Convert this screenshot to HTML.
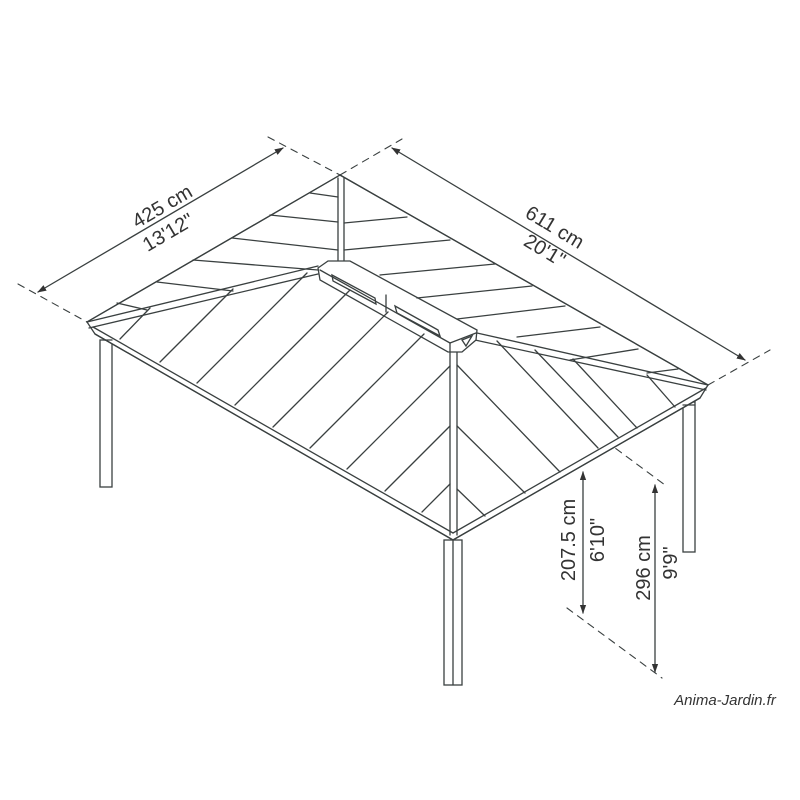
<!DOCTYPE html>
<html><head><meta charset="utf-8"><style>
html,body{margin:0;padding:0;background:#fff;}
svg{display:block}
text{font-family:"Liberation Sans",sans-serif;fill:#333;}
</style></head><body>
<svg width="800" height="800" viewBox="0 0 800 800" xmlns="http://www.w3.org/2000/svg">
<defs>
<marker id="ar" viewBox="0 0 10 10" refX="9" refY="5" markerWidth="7" markerHeight="7" orient="auto-start-reverse"><path d="M0,1.5 L10,5 L0,8.5 z" fill="#333"/></marker>
</defs>
<g stroke="#3a4040" stroke-width="1.3" fill="none" stroke-linecap="round">
<!-- dashed extensions -->
<g stroke-dasharray="7,6" stroke-width="1.1">
<line x1="18" y1="284" x2="87" y2="322"/>
<line x1="268" y1="137" x2="340" y2="175"/>
<line x1="340" y1="175" x2="402" y2="139"/>
<line x1="708" y1="385" x2="770" y2="350"/>
<line x1="480" y1="348" x2="665" y2="485"/>
<line x1="567" y1="608" x2="662" y2="678"/>
</g>
<!-- dimension arrows -->
<line x1="38" y1="292" x2="283" y2="148" marker-start="url(#ar)" marker-end="url(#ar)"/>
<line x1="392" y1="148" x2="745" y2="360" marker-start="url(#ar)" marker-end="url(#ar)"/>
<line x1="583" y1="472" x2="583" y2="613" marker-start="url(#ar)" marker-end="url(#ar)"/>
<line x1="655" y1="485" x2="655" y2="672" marker-start="url(#ar)" marker-end="url(#ar)"/>

<!-- posts -->
<rect x="100" y="340" width="12" height="147" fill="#fff"/>
<rect x="683" y="402" width="12" height="150" fill="#fff"/>
<rect x="444" y="540" width="18" height="145" fill="#fff"/>
<line x1="453" y1="540" x2="453" y2="685"/>

<!-- roof outline -->
<polygon points="340,175 87,322 95,334 453,540 700,398 708,385" fill="#fff"/>
<!-- eaves double lines -->
<line x1="95" y1="334" x2="453" y2="540"/>
<line x1="93" y1="327" x2="453" y2="533"/>
<line x1="453" y1="540" x2="700" y2="398"/>
<line x1="453" y1="533" x2="706" y2="388"/>
<line x1="87" y1="322" x2="340" y2="175"/>
<line x1="340" y1="175" x2="708" y2="385"/>
<line x1="104" y1="340" x2="112" y2="340"/>
<line x1="683" y1="405" x2="695" y2="405"/>

<!-- hips -->
<line x1="87" y1="322" x2="318" y2="266"/>
<line x1="89" y1="328" x2="318" y2="274"/>
<line x1="477" y1="333" x2="708" y2="385"/>
<line x1="475" y1="340" x2="706" y2="390"/>
<line x1="338" y1="178" x2="338" y2="262"/>
<line x1="344" y1="178" x2="344" y2="262"/>
<line x1="450" y1="352" x2="450" y2="535"/>
<line x1="457" y1="352" x2="457" y2="535"/>

<!-- vent -->
<polygon points="318,268 328,261 350,261 477,330 476,340 462,352 448,352 320,280" fill="#fff"/>
<line x1="320" y1="270" x2="450" y2="343"/>
<line x1="450" y1="343" x2="476" y2="333"/>
<line x1="450" y1="343" x2="450" y2="352"/>
<polygon points="332,275 375,298 376,304 333,281"/>
<polygon points="395,306 438,330 440,336 397,313"/>
<line x1="386" y1="295" x2="386" y2="312"/>
<polygon points="462,340 472,336 466,346" />

<!-- front-left panels -->
<line x1="120" y1="339" x2="150" y2="308"/>
<line x1="160" y1="362" x2="233" y2="289"/>
<line x1="197" y1="383" x2="307" y2="273"/>
<line x1="235" y1="405" x2="350" y2="290"/>
<line x1="273" y1="427" x2="388" y2="312"/>
<line x1="310" y1="448" x2="424" y2="334"/>
<line x1="347" y1="469" x2="450" y2="366"/>
<line x1="385" y1="491" x2="450" y2="426"/>
<line x1="422" y1="512" x2="450" y2="484"/>

<!-- front-right panels -->
<line x1="457" y1="489" x2="485" y2="516"/>
<line x1="457" y1="426" x2="525" y2="493"/>
<line x1="457" y1="365" x2="560" y2="472"/>
<line x1="497" y1="341" x2="598" y2="448"/>
<line x1="535" y1="350" x2="618" y2="437"/>
<line x1="573" y1="359" x2="637" y2="428"/>
<line x1="647" y1="375" x2="675" y2="407"/>

<!-- back-left panels -->
<line x1="310" y1="193" x2="338" y2="197"/>
<line x1="270" y1="215" x2="338" y2="222"/>
<line x1="232" y1="238" x2="338" y2="250"/>
<line x1="193" y1="260" x2="318" y2="270"/>
<line x1="157" y1="282" x2="233" y2="291"/>
<line x1="117" y1="303" x2="147" y2="310"/>

<!-- back-right panels -->
<line x1="344" y1="223" x2="407" y2="217"/>
<line x1="344" y1="250" x2="450" y2="240"/>
<line x1="380" y1="275" x2="495" y2="264"/>
<line x1="417" y1="298" x2="532" y2="286"/>
<line x1="457" y1="319" x2="565" y2="306"/>
<line x1="517" y1="337" x2="600" y2="327"/>
<line x1="570" y1="360" x2="638" y2="349"/>
<line x1="647" y1="373" x2="678" y2="369"/>
</g>

<!-- labels -->
<text x="162" y="213" font-size="20" text-anchor="middle" transform="rotate(-30.4 162 206)">425 cm</text>
<text x="168" y="239" font-size="20" text-anchor="middle" transform="rotate(-30.4 168 232)">13'12"</text>
<text x="555" y="234" font-size="20" text-anchor="middle" transform="rotate(31 555 227)">611 cm</text>
<text x="545" y="257" font-size="20" text-anchor="middle" transform="rotate(31 545 250)">20'1"</text>
<text x="568" y="547" font-size="20" text-anchor="middle" transform="rotate(-90 568 540)">207.5 cm</text>
<text x="597" y="547" font-size="20" text-anchor="middle" transform="rotate(-90 597 540)">6'10"</text>
<text x="643" y="575" font-size="20" text-anchor="middle" transform="rotate(-90 643 568)">296 cm</text>
<text x="670" y="570" font-size="20" text-anchor="middle" transform="rotate(-90 670 563)">9'9"</text>
<text x="725" y="705" font-size="15" text-anchor="middle" font-style="italic">Anima-Jardin.fr</text>
</svg>
</body></html>
